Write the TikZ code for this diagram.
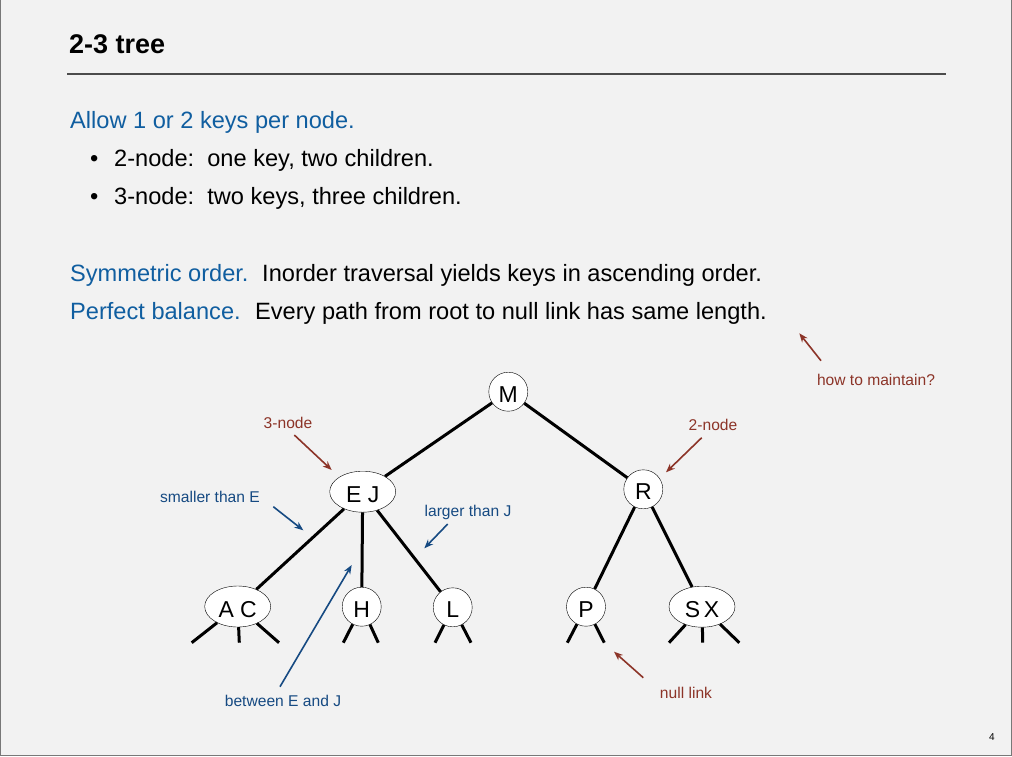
\documentclass[tikz,border=0pt]{standalone}
\usepackage{fontspec}
\setmainfont{Liberation Sans}
\usetikzlibrary{shapes.geometric,arrows.meta}
\definecolor{bg}{RGB}{242,242,242}
\definecolor{hblue}{RGB}{16,94,160}
\definecolor{lblue}{RGB}{22,74,130}
\definecolor{lred}{RGB}{140,52,40}
\definecolor{frame}{RGB}{120,120,120}
\tikzset{
  body/.style={anchor=base west,inner sep=0pt,font=\fontsize{23.6}{27}\selectfont},
  lab/.style={inner sep=0pt,font=\fontsize{15.6}{18}\selectfont},
  tn/.style={circle,draw,thin,fill=white,minimum size=39pt,inner sep=0pt,text height=21pt,text depth=0pt,font=\fontsize{23}{26}\selectfont},
  tn3/.style={ellipse,draw,thin,fill=white,minimum width=66pt,minimum height=41pt,inner sep=0pt,text height=21pt,text depth=0pt,font=\fontsize{23}{26}\selectfont},
  link/.style={line width=3pt},
  redarr/.style={draw=lred,line width=1.6pt,-{Stealth[length=9pt,width=7pt]}},
  bluearr/.style={draw=lblue,line width=1.6pt,-{Stealth[length=9pt,width=7pt]}},
}
\begin{document}
\begin{tikzpicture}[x=1pt,y=-1pt]
\fill[bg] (0,0) rectangle (1012,756);
\useasboundingbox (0,0) rectangle (1012,756);
\draw[frame,line width=1pt] (0.5,-2) -- (0.5,755.5) -- (1011.5,755.5) -- (1011.5,-2);
% title
\node[anchor=base west,inner sep=0pt,font=\fontsize{27}{30}\selectfont\bfseries] (title) at (69,53) {2-3 tree};
\draw[line width=2pt,black!70] (67,74) -- (946,74);
% body text
\node[body,text=hblue] (t1) at (70,128) {Allow 1 or 2 keys per node.};
\node[body] (b1) at (90,166) {\textbullet};
\node[body] (t2) at (114,166) {2-node:\ \ one key, two children.};
\node[body] (b2) at (90,204) {\textbullet};
\node[body] (t3) at (114,204) {3-node:\ \ two keys, three children.};
\node[body,text=hblue] (t4) at (70,281) {Symmetric order.};
\node[body] (t5) at (262,281) {Inorder traversal yields keys in ascending order.};
\node[body,text=hblue] (t6) at (70,319) {Perfect balance.};
\node[body] (t7) at (255,319) {Every path from root to null link has same length.};
% tree
\node[tn] (M) at (508.3,391.7) {M};
\node[tn3] (EJ) at (362.7,491.7) {E\ J};
\node[tn] (R) at (643.3,489.3) {R};
\node[tn3] (AC) at (237.7,606.5) {A\ C};
\node[tn] (H) at (361.7,606.7) {H};
\node[tn] (L) at (452.7,607.3) {L};
\node[tn] (P) at (586,606.7) {P};
\node[tn3] (SX) at (702,606.7) {S\,X};
\draw[link] (M) -- (EJ);
\draw[link] (M) -- (R);
\draw[link] (EJ) -- (AC);
\draw[link] (EJ) -- (H);
\draw[link] (EJ) -- (L);
\draw[link] (R) -- (P);
\draw[link] (R) -- (SX);
% null links
\coordinate (ac1) at (191.7,642.7);
\coordinate (ac2) at (239.3,642.7);
\coordinate (ac3) at (279,642.7);
\coordinate (h1) at (343.3,642.7);
\coordinate (h2) at (378.3,642.7);
\coordinate (l1) at (435,642.7);
\coordinate (l2) at (471,642.7);
\coordinate (p1) at (567.3,642.7);
\coordinate (p2) at (604.3,642.7);
\coordinate (sx1) at (669,642.7);
\coordinate (sx2) at (702.7,642.7);
\coordinate (sx3) at (739.3,642.7);
\foreach \n/\c in {AC/ac1,AC/ac2,AC/ac3,H/h1,H/h2,L/l1,L/l2,P/p1,P/p2,SX/sx1,SX/sx2,SX/sx3}
  \draw[link] (\n) -- (\c);
% red labels
\node[lab,text=lred] (l3n) at (288,423) {3-node};
\coordinate (a3t) at (294.3,435); \coordinate (a3h) at (331.7,470);
\draw[redarr] (a3t) -- (a3h);
\node[lab,text=lred] (l2n) at (713,425) {2-node};
\coordinate (a2t) at (701.7,437.7); \coordinate (a2h) at (666,472.3);
\draw[redarr] (a2t) -- (a2h);
\node[lab,text=lred] (lhm) at (876,380) {how to maintain?};
\coordinate (amt) at (821,360.7); \coordinate (amh) at (799.3,333.3);
\draw[redarr] (amt) -- (amh);
\node[lab,text=lred] (lnl) at (686,693) {null link};
\coordinate (ant) at (643.3,677.7); \coordinate (anh) at (614,651.7);
\draw[redarr] (ant) -- (anh);
% blue labels
\node[lab,text=lblue] (lsm) at (210,497) {smaller than E};
\coordinate (ast) at (273.3,506.7); \coordinate (ash) at (303.3,530.3);
\draw[bluearr] (ast) -- (ash);
\node[lab,text=lblue] (llg) at (468,512) {larger than J};
\coordinate (alt) at (447.7,524); \coordinate (alh) at (424.3,548.3);
\draw[bluearr] (alt) -- (alh);
\node[lab,text=lblue] (lbt) at (283,701) {between E and J};
\coordinate (abt) at (280,686.7); \coordinate (abh) at (351.7,565);
\draw[bluearr] (abt) -- (abh);
% page number
\node[inner sep=0pt,font=\fontsize{10}{12}\selectfont] (pg) at (992,737) {4};
\end{tikzpicture}
\end{document}
